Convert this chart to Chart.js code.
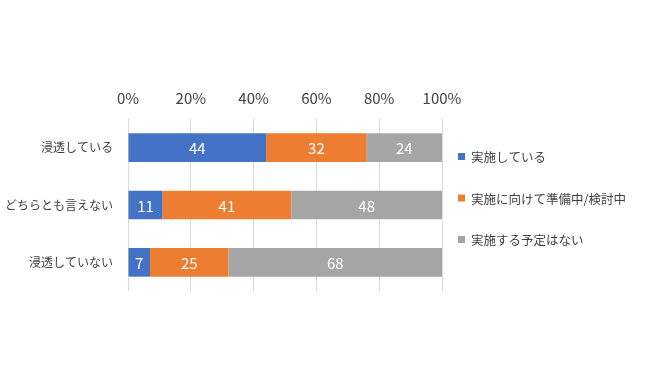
<!DOCTYPE html>
<html lang="ja">
<head>
    <meta charset="UTF-8">
    <title>浸透度別の実施状況</title>
    <style>
        body {
            margin: 0;
            padding: 0;
            background: #fff;
        }
        .chart-wrap {
            width: 650px;
            height: 380px;
            position: relative;
        }
    </style>
</head>
<body>
    <div class="chart-wrap">
        <canvas id="stackChart"></canvas>
    </div>
    <script src="https://cdn.jsdelivr.net/npm/chart.js"></script>
    <script>
    // Data
    const categories = ['浸透している', 'どちらとも言えない', '浸透していない'];
    const seriesNames = ['実施している', '実施に向けて準備中/検討中', '実施する予定はない'];
    const implemented = [44, 11, 7];
    const preparing = [32, 41, 25];
    const noPlan = [24, 48, 68];
    const seriesColors = ['#4472C4', '#ED7D31', '#A5A5A5'];

    const fontFamily = "'Noto Sans CJK JP', 'Noto Sans', sans-serif";

    // draws the value in the middle of each bar segment
    const barValues = {
        id: 'barValues',
        afterDatasetsDraw(chart) {
            const ctx = chart.ctx;
            ctx.save();
            ctx.fillStyle = '#ffffff';
            ctx.font = '15px ' + fontFamily;
            ctx.textAlign = 'center';
            ctx.textBaseline = 'middle';
            chart.data.datasets.forEach((ds, i) => {
                const meta = chart.getDatasetMeta(i);
                meta.data.forEach((bar, j) => {
                    const cx = (bar.x + bar.base) / 2;
                    ctx.fillText(ds.data[j], cx, bar.y + 1);
                });
            });
            ctx.restore();
        }
    };

    // legend on the right; the built-in one gets squeezed by the layout
    const sideLegend = {
        id: 'sideLegend',
        afterDraw(chart) {
            const ctx = chart.ctx;
            const area = chart.chartArea;
            const mid = (area.top + area.bottom) / 2 - 7;
            const gap = 41.5;
            const n = chart.data.datasets.length;
            ctx.save();
            ctx.font = '12.5px ' + fontFamily;
            ctx.textBaseline = 'middle';
            ctx.textAlign = 'left';
            chart.data.datasets.forEach((ds, i) => {
                const y = mid + (i - (n - 1) / 2) * gap;
                const x = area.right + 16;
                ctx.fillStyle = ds.backgroundColor;
                ctx.fillRect(x, y - 3.5, 7, 7);
                ctx.fillStyle = '#404040';
                ctx.fillText(ds.label, x + 13, y + 1);
            });
            ctx.restore();
        }
    };

    const ctx = document.getElementById('stackChart').getContext('2d');
    new Chart(ctx, {
        type: 'bar',
        data: {
            labels: categories,
            datasets: [
                { label: seriesNames[0], data: implemented, backgroundColor: seriesColors[0] },
                { label: seriesNames[1], data: preparing, backgroundColor: seriesColors[1] },
                { label: seriesNames[2], data: noPlan, backgroundColor: seriesColors[2] }
            ]
        },
        options: {
            indexAxis: 'y',
            responsive: true,
            maintainAspectRatio: false,
            animation: false,
            barPercentage: 0.5,
            categoryPercentage: 1,
            layout: {
                padding: { top: 89, bottom: 89, left: 0, right: 208 }
            },
            plugins: {
                legend: { display: false },
                tooltip: { enabled: false }
            },
            scales: {
                x: {
                    position: 'top',
                    stacked: true,
                    min: 0,
                    max: 100,
                    afterFit: (s) => { s.height = 30; },
                    ticks: {
                        stepSize: 20,
                        padding: 12,
                        color: '#404040',
                        font: { size: 15, family: fontFamily },
                        callback: (v) => v + '%'
                    },
                    grid: { color: '#d9d9d9', drawTicks: false },
                    border: { display: false }
                },
                y: {
                    stacked: true,
                    afterFit: (s) => { s.width = 128; },
                    ticks: {
                        padding: 15,
                        color: '#404040',
                        font: { size: 12, family: fontFamily }
                    },
                    grid: { display: false, drawTicks: false },
                    border: { display: false }
                }
            }
        },
        plugins: [barValues, sideLegend]
    });
    </script>
</body>
</html>
